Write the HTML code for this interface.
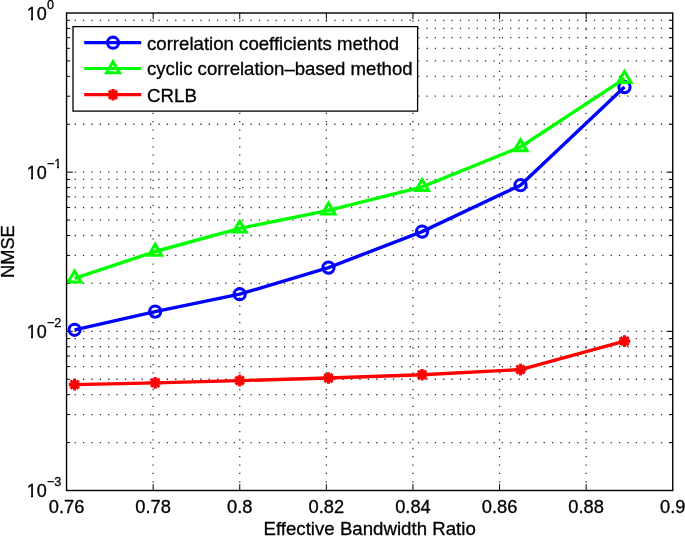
<!DOCTYPE html>
<html><head><meta charset="utf-8"><title>NMSE vs Effective Bandwidth Ratio</title>
<style>html,body{margin:0;padding:0;background:#fff}svg{display:block}text{fill:#000;stroke:#000;stroke-width:0.3px}</style></head>
<body>
<svg width="685" height="536" viewBox="0 0 685 536" font-family="Liberation Sans, Arial, Helvetica, sans-serif">
<rect x="0" y="0" width="685" height="536" fill="#fff"/>
<g stroke="#000" stroke-width="1.3" stroke-dasharray="1.3 7.075" stroke-opacity="0.8" fill="none">
<path d="M153.15 482.45V13.0"/>
<path d="M239.75 482.45V13.0"/>
<path d="M326.35 482.45V13.0"/>
<path d="M412.95 482.45V13.0"/>
<path d="M499.55 482.45V13.0"/>
<path d="M586.15 482.45V13.0"/>
<path d="M74.60 172.17H672.75"/>
<path d="M74.60 124.25H672.75"/>
<path d="M74.60 96.22H672.75"/>
<path d="M74.60 76.34H672.75"/>
<path d="M74.60 60.91H672.75"/>
<path d="M74.60 48.31H672.75"/>
<path d="M74.60 37.66H672.75"/>
<path d="M74.60 28.42H672.75"/>
<path d="M74.60 20.28H672.75"/>
<path d="M74.60 331.33H672.75"/>
<path d="M74.60 283.42H672.75"/>
<path d="M74.60 255.39H672.75"/>
<path d="M74.60 235.51H672.75"/>
<path d="M74.60 220.08H672.75"/>
<path d="M74.60 207.48H672.75"/>
<path d="M74.60 196.82H672.75"/>
<path d="M74.60 187.59H672.75"/>
<path d="M74.60 179.45H672.75"/>
<path d="M74.60 442.59H672.75"/>
<path d="M74.60 414.56H672.75"/>
<path d="M74.60 394.67H672.75"/>
<path d="M74.60 379.25H672.75"/>
<path d="M74.60 366.64H672.75"/>
<path d="M74.60 355.99H672.75"/>
<path d="M74.60 346.76H672.75"/>
<path d="M74.60 338.62H672.75"/>
</g>
<g stroke="#000" stroke-width="1" fill="none">
<path d="M153.15 490.5v-6.3M153.15 13.0v6.3"/>
<path d="M239.75 490.5v-6.3M239.75 13.0v6.3"/>
<path d="M326.35 490.5v-6.3M326.35 13.0v6.3"/>
<path d="M412.95 490.5v-6.3M412.95 13.0v6.3"/>
<path d="M499.55 490.5v-6.3M499.55 13.0v6.3"/>
<path d="M586.15 490.5v-6.3M586.15 13.0v6.3"/>
<path d="M66.55 172.17h6.3M672.75 172.17h-6.3"/>
<path d="M66.55 124.25h3.5M672.75 124.25h-3.5"/>
<path d="M66.55 96.22h3.5M672.75 96.22h-3.5"/>
<path d="M66.55 76.34h3.5M672.75 76.34h-3.5"/>
<path d="M66.55 60.91h3.5M672.75 60.91h-3.5"/>
<path d="M66.55 48.31h3.5M672.75 48.31h-3.5"/>
<path d="M66.55 37.66h3.5M672.75 37.66h-3.5"/>
<path d="M66.55 28.42h3.5M672.75 28.42h-3.5"/>
<path d="M66.55 20.28h3.5M672.75 20.28h-3.5"/>
<path d="M66.55 331.33h6.3M672.75 331.33h-6.3"/>
<path d="M66.55 283.42h3.5M672.75 283.42h-3.5"/>
<path d="M66.55 255.39h3.5M672.75 255.39h-3.5"/>
<path d="M66.55 235.51h3.5M672.75 235.51h-3.5"/>
<path d="M66.55 220.08h3.5M672.75 220.08h-3.5"/>
<path d="M66.55 207.48h3.5M672.75 207.48h-3.5"/>
<path d="M66.55 196.82h3.5M672.75 196.82h-3.5"/>
<path d="M66.55 187.59h3.5M672.75 187.59h-3.5"/>
<path d="M66.55 179.45h3.5M672.75 179.45h-3.5"/>
<path d="M66.55 442.59h3.5M672.75 442.59h-3.5"/>
<path d="M66.55 414.56h3.5M672.75 414.56h-3.5"/>
<path d="M66.55 394.67h3.5M672.75 394.67h-3.5"/>
<path d="M66.55 379.25h3.5M672.75 379.25h-3.5"/>
<path d="M66.55 366.64h3.5M672.75 366.64h-3.5"/>
<path d="M66.55 355.99h3.5M672.75 355.99h-3.5"/>
<path d="M66.55 346.76h3.5M672.75 346.76h-3.5"/>
<path d="M66.55 338.62h3.5M672.75 338.62h-3.5"/>
</g>
<clipPath id="ax"><rect x="66.55" y="13.0" width="606.2" height="477.5"/></clipPath><g clip-path="url(#ax)">
<polyline points="74.6,329.8 155.2,311.6 239.7,294.2 328.5,267.6 422.1,231.6 520.5,185.2 624.5,87.1" fill="none" stroke="#0000ff" stroke-width="3.4" stroke-linejoin="round"/>
<circle cx="74.6" cy="329.8" r="5.6" fill="none" stroke="#0000ff" stroke-width="3.05"/>
<circle cx="155.2" cy="311.6" r="5.6" fill="none" stroke="#0000ff" stroke-width="3.05"/>
<circle cx="239.7" cy="294.2" r="5.6" fill="none" stroke="#0000ff" stroke-width="3.05"/>
<circle cx="328.5" cy="267.6" r="5.6" fill="none" stroke="#0000ff" stroke-width="3.05"/>
<circle cx="422.1" cy="231.6" r="5.6" fill="none" stroke="#0000ff" stroke-width="3.05"/>
<circle cx="520.5" cy="185.2" r="5.6" fill="none" stroke="#0000ff" stroke-width="3.05"/>
<circle cx="624.5" cy="87.1" r="5.6" fill="none" stroke="#0000ff" stroke-width="3.05"/>
<polyline points="74.6,278.3 155.2,251.5 239.7,228.4 328.5,210.4 422.1,186.9 520.5,147.0 624.5,78.7" fill="none" stroke="#00ff00" stroke-width="3.4" stroke-linejoin="round"/>
<path d="M74.6 271.0L81.0 281.9H68.1Z" fill="none" stroke="#00ff00" stroke-width="3.0" stroke-linejoin="miter"/>
<path d="M155.2 244.2L161.6 255.2H148.8Z" fill="none" stroke="#00ff00" stroke-width="3.0" stroke-linejoin="miter"/>
<path d="M239.7 221.1L246.1 232.1H233.2Z" fill="none" stroke="#00ff00" stroke-width="3.0" stroke-linejoin="miter"/>
<path d="M328.5 203.1L334.9 214.1H322.1Z" fill="none" stroke="#00ff00" stroke-width="3.0" stroke-linejoin="miter"/>
<path d="M422.1 179.6L428.6 190.6H415.7Z" fill="none" stroke="#00ff00" stroke-width="3.0" stroke-linejoin="miter"/>
<path d="M520.5 139.7L527.0 150.7H514.0Z" fill="none" stroke="#00ff00" stroke-width="3.0" stroke-linejoin="miter"/>
<path d="M624.5 71.4L631.0 82.4H618.0Z" fill="none" stroke="#00ff00" stroke-width="3.0" stroke-linejoin="miter"/>
<polyline points="74.6,384.6 155.2,382.9 239.7,380.6 328.5,378.0 422.1,374.8 520.5,369.6 624.5,341.1" fill="none" stroke="#ff0000" stroke-width="3.4" stroke-linejoin="round"/>
<path d="M68.80 384.60L80.40 384.60M70.50 380.50L78.70 388.70M74.60 378.80L74.60 390.40M78.70 380.50L70.50 388.70" fill="none" stroke="#ff0000" stroke-width="3.1"/>
<path d="M149.40 382.90L161.00 382.90M151.10 378.80L159.30 387.00M155.20 377.10L155.20 388.70M159.30 378.80L151.10 387.00" fill="none" stroke="#ff0000" stroke-width="3.1"/>
<path d="M233.90 380.60L245.50 380.60M235.60 376.50L243.80 384.70M239.70 374.80L239.70 386.40M243.80 376.50L235.60 384.70" fill="none" stroke="#ff0000" stroke-width="3.1"/>
<path d="M322.70 378.00L334.30 378.00M324.40 373.90L332.60 382.10M328.50 372.20L328.50 383.80M332.60 373.90L324.40 382.10" fill="none" stroke="#ff0000" stroke-width="3.1"/>
<path d="M416.30 374.80L427.90 374.80M418.00 370.70L426.20 378.90M422.10 369.00L422.10 380.60M426.20 370.70L418.00 378.90" fill="none" stroke="#ff0000" stroke-width="3.1"/>
<path d="M514.70 369.60L526.30 369.60M516.40 365.50L524.60 373.70M520.50 363.80L520.50 375.40M524.60 365.50L516.40 373.70" fill="none" stroke="#ff0000" stroke-width="3.1"/>
<path d="M618.70 341.10L630.30 341.10M620.40 337.00L628.60 345.20M624.50 335.30L624.50 346.90M628.60 337.00L620.40 345.20" fill="none" stroke="#ff0000" stroke-width="3.1"/>
</g>
<rect x="66.55" y="13.0" width="606.2" height="477.5" fill="none" stroke="#000" stroke-width="1.4"/>
<rect x="73.0" y="26.6" width="344.6" height="84.5" fill="#fff" stroke="#000" stroke-width="1.3"/>
<path d="M84.2 42.55H141.2" stroke="#0000ff" stroke-width="3.15" fill="none"/>
<path d="M84.2 68.5H141.2" stroke="#00ff00" stroke-width="3.15" fill="none"/>
<path d="M84.2 94.55H141.2" stroke="#ff0000" stroke-width="3.15" fill="none"/>
<circle cx="113.0" cy="42.7" r="5.6" fill="none" stroke="#0000ff" stroke-width="3.05"/>
<path d="M113.0 61.7L119.5 72.7H106.5Z" fill="none" stroke="#00ff00" stroke-width="3.0" stroke-linejoin="miter"/>
<path d="M107.20 94.80L118.80 94.80M108.90 90.70L117.10 98.90M113.00 89.00L113.00 100.60M117.10 90.70L108.90 98.90" fill="none" stroke="#ff0000" stroke-width="3.1"/>
<text x="147.0" y="49.7" font-size="18.5" textLength="252.1" lengthAdjust="spacingAndGlyphs">correlation coefficients method</text>
<text x="147.0" y="75.4" font-size="18.5" textLength="265.6" lengthAdjust="spacingAndGlyphs">cyclic correlation–based method</text>
<text x="147.0" y="101.7" font-size="18.5" textLength="50.0" lengthAdjust="spacingAndGlyphs">CRLB</text>
<text x="66.55" y="513.4" font-size="18.3" text-anchor="middle">0.76</text>
<text x="153.15" y="513.4" font-size="18.3" text-anchor="middle">0.78</text>
<text x="239.75" y="513.4" font-size="18.3" text-anchor="middle">0.8</text>
<text x="326.35" y="513.4" font-size="18.3" text-anchor="middle">0.82</text>
<text x="412.95" y="513.4" font-size="18.3" text-anchor="middle">0.84</text>
<text x="499.55" y="513.4" font-size="18.3" text-anchor="middle">0.86</text>
<text x="586.15" y="513.4" font-size="18.3" text-anchor="middle">0.88</text>
<text x="672.75" y="513.4" font-size="18.3" text-anchor="middle">0.9</text>
<text x="369.65" y="534.6" font-size="18.4" text-anchor="middle" textLength="212.3" lengthAdjust="spacingAndGlyphs">Effective Bandwidth Ratio</text>
<text x="46.8" y="19.8" font-size="18" text-anchor="end">10</text>
<text x="46.9" y="8.7" font-size="12.7">0</text>
<path d="M26.5 17.5h4.5v3.6h-4.5zM33 17.5h3.6v3.6h-3.6z" fill="#fff"/>
<text x="46.8" y="179.0" font-size="18" text-anchor="end">10</text>
<text x="46.9" y="167.9" font-size="12.7">−1</text>
<path d="M26.5 176.5h4.5v3.6h-4.5zM33 176.5h3.6v3.6h-3.6z" fill="#fff"/>
<path d="M54.5 166.5h2.5v2.6h-2.5zM59 166.5h2.6v2.6h-2.6z" fill="#fff"/>
<text x="46.8" y="338.1" font-size="18" text-anchor="end">10</text>
<text x="46.9" y="327.0" font-size="12.7">−2</text>
<path d="M26.5 335.5h4.5v3.6h-4.5zM33 335.5h3.6v3.6h-3.6z" fill="#fff"/>
<text x="46.8" y="497.3" font-size="18" text-anchor="end">10</text>
<text x="46.9" y="486.2" font-size="12.7">−3</text>
<path d="M26.5 494.5h4.5v3.6h-4.5zM33 494.5h3.6v3.6h-3.6z" fill="#fff"/>
<text transform="translate(14.4 251.6) rotate(-90)" font-size="18.25" text-anchor="middle">NMSE</text>
</svg>
</body></html>
